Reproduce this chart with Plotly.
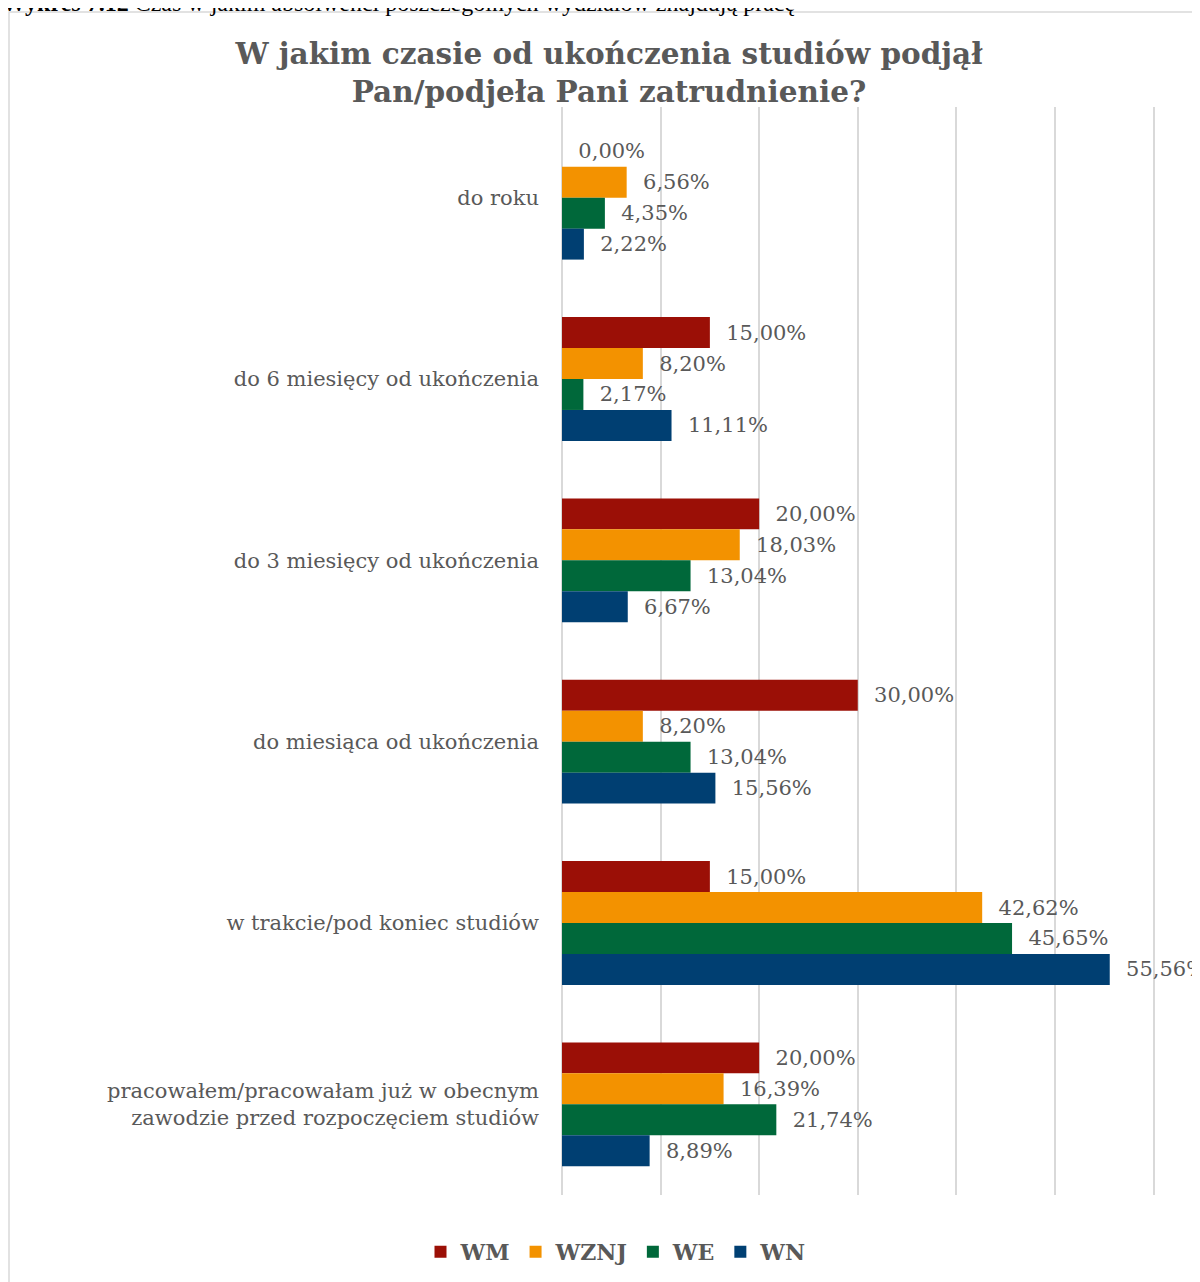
import plotly.graph_objects as go

categories = [
    "do roku",
    "do 6 miesięcy od ukończenia",
    "do 3 miesięcy od ukończenia",
    "do miesiąca od ukończenia",
    "w trakcie/pod koniec studiów",
    "pracowałem/pracowałam już w obecnym<br>zawodzie przed rozpoczęciem studiów",
]
wm = [0.00, 15.00, 20.00, 30.00, 15.00, 20.00]
wznj = [6.56, 8.20, 18.03, 8.20, 42.62, 16.39]
we = [4.35, 2.17, 13.04, 13.04, 45.65, 21.74]
wn = [2.22, 11.11, 6.67, 15.56, 55.56, 8.89]

series = [("WM", wm, "#9b0f06"), ("WZNJ", wznj, "#f39200"),
          ("WE", we, "#00683a"), ("WN", wn, "#003f72")]

gray = "#595959"
serif = "DejaVu Serif"


def pct(v):
    return "  " + f"{v:.2f}".replace(".", ",") + "%"


fig = go.Figure()
for name, vals, col in series:
    fig.add_bar(y=categories, x=vals, name="<b>" + name + "</b>", orientation="h",
                marker_color=col, marker_line_width=0,
                text=[pct(v) for v in vals], textposition="outside",
                textfont=dict(family=serif, size=21, color=gray),
                cliponaxis=False)

# page has an 8px body margin; page px -> figure px -> paper
OFF = 8
FW, FH = 1200, 1282
L, T = 562 - OFF, 107 - OFF
R = FW - (1155 - OFF)
B = FH - (1195 - OFF)
W, H = FW - L - R, FH - T - B


def px_x(p):
    return (p - OFF - L) / W


def px_y(p):
    return (FH - B - (p - OFF)) / H


fig.update_layout(
    width=FW, height=FH,
    margin=dict(l=L, r=R, t=T, b=B, autoexpand=False),
    paper_bgcolor="white", plot_bgcolor="white",
    barmode="group", bargap=0.317, bargroupgap=0,
    title=dict(text="<b>W jakim czasie od ukończenia studiów podjął<br>Pan/podjeła Pani zatrudnienie?</b>",
               font=dict(family=serif, size=29.5, color=gray),
               x=(609 - OFF) / FW, xanchor="center", y=1 - (64 - OFF) / FH, yanchor="middle"),
    xaxis=dict(range=[0, 60.15], tick0=0, dtick=10, showticklabels=False, showgrid=True,
               gridcolor="#d9d9d9", gridwidth=1.5, zeroline=True, zerolinecolor="#d9d9d9",
               zerolinewidth=1.5, fixedrange=True),
    yaxis=dict(autorange="reversed", showgrid=False, ticks="",
               ticklabelstandoff=22, automargin=False,
               tickfont=dict(family=serif, size=21, color=gray)),
    legend=dict(orientation="h", x=px_x(616), xanchor="center", y=px_y(1252), yanchor="middle",
                font=dict(family=serif, size=22, color=gray), itemwidth=30,
                traceorder="normal"),
    font=dict(family=serif),
    shapes=[dict(type="rect", xref="paper", yref="paper",
                 x0=px_x(9), x1=px_x(1240), y0=px_y(1320), y1=px_y(12),
                 line=dict(color="#d9d9d9", width=1.5), layer="below")],
    annotations=[dict(text="<b>Wykres 7.12</b> Czas w jakim absolwenci poszczególnych wydziałów znajdują pracę",
                      xref="paper", yref="paper", x=px_x(0), y=px_y(18),
                      xanchor="left", yanchor="bottom", showarrow=False,
                      font=dict(family="Liberation Serif", size=24, color="black"))],
)

fig.write_html("out.html")
